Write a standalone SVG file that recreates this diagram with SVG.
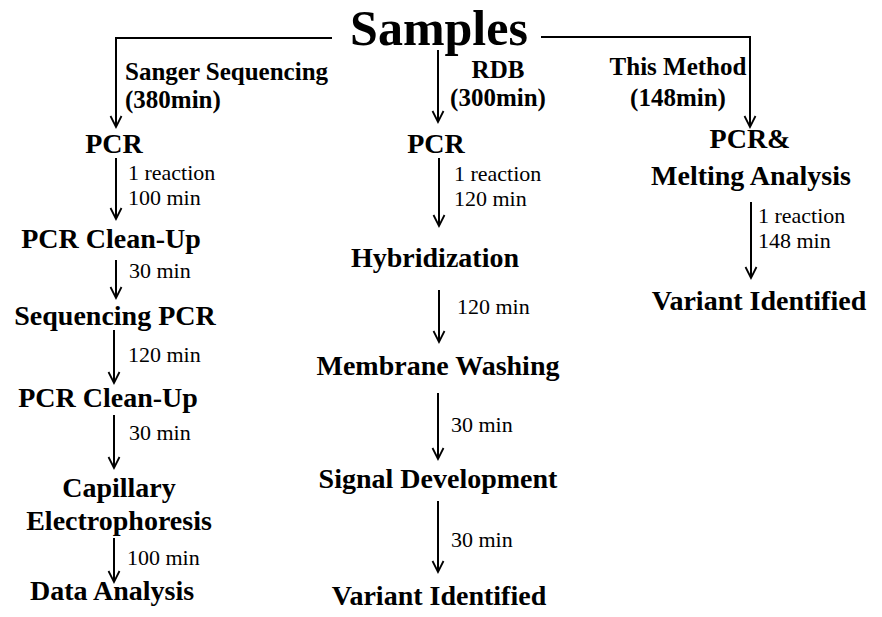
<svg xmlns="http://www.w3.org/2000/svg" width="882" height="617" viewBox="0 0 882 617">
<defs>
<marker id="ah" markerWidth="14" markerHeight="14" refX="12" refY="7" orient="auto" markerUnits="userSpaceOnUse" viewBox="0 0 14 14">
<polyline points="1,1.5 12,7 1,12.5" fill="none" stroke="#000" stroke-width="1.8"/>
</marker>
<style>
text{font-family:"Liberation Serif","Times New Roman",serif;fill:#000}
.t{font-size:50px;font-weight:bold;text-anchor:middle}
.n{font-size:28px;font-weight:bold;text-anchor:middle}
.m{font-size:25px;font-weight:bold}
.s{font-size:22px}
.c{stroke:#000;stroke-width:2;fill:none}
.a{marker-end:url(#ah)}
</style>
</defs>
<rect width="882" height="617" fill="#fff"/>
<g id="samples"><text class="t" x="439" y="45">Samples</text></g>
<g id="labels">
<text class="m" x="125" y="80">Sanger Sequencing</text>
<text class="m" x="125" y="108">(380min)</text>
<text class="m" x="498" y="78" text-anchor="middle">RDB</text>
<text class="m" x="498" y="106" text-anchor="middle">(300min)</text>
<text class="m" x="678" y="75" text-anchor="middle">This Method</text>
<text class="m" x="678" y="106" text-anchor="middle">(148min)</text>
</g>
<g id="connectors">
<polyline class="c a" points="332,38 116,38 116,127"/>
<line class="c a" x1="438" y1="50" x2="438" y2="122"/>
<polyline class="c a" points="541,37 750,37 750,127"/>
<line class="c a" x1="116" y1="158" x2="116" y2="219"/>
<line class="c a" x1="116" y1="260" x2="116" y2="298"/>
<line class="c a" x1="114" y1="330" x2="114" y2="383"/>
<line class="c a" x1="114" y1="415" x2="114" y2="468"/>
<line class="c a" x1="114" y1="538" x2="114" y2="582"/>
<line class="c a" x1="439" y1="158" x2="439" y2="226"/>
<line class="c a" x1="439" y1="290" x2="439" y2="342"/>
<line class="c a" x1="438" y1="393" x2="438" y2="459"/>
<line class="c a" x1="438" y1="501" x2="438" y2="572"/>
<line class="c a" x1="751" y1="202" x2="751" y2="278"/>
</g>
<g id="edge-labels">
<text class="s" x="128" y="180">1 reaction</text>
<text class="s" x="128" y="205">100 min</text>
<text class="s" x="129" y="278">30 min</text>
<text class="s" x="128" y="362">120 min</text>
<text class="s" x="129" y="440">30 min</text>
<text class="s" x="127" y="565">100 min</text>
<text class="s" x="454" y="181">1 reaction</text>
<text class="s" x="454" y="206">120 min</text>
<text class="s" x="457" y="314">120 min</text>
<text class="s" x="451" y="432">30 min</text>
<text class="s" x="451" y="547">30 min</text>
<text class="s" x="758" y="223">1 reaction</text>
<text class="s" x="758" y="248">148 min</text>
</g>
<g id="s-pcr"><text class="n" x="114" y="153">PCR</text></g>
<g id="s-cleanup1"><text class="n" x="111" y="248">PCR Clean-Up</text></g>
<g id="s-seqpcr"><text class="n" x="115" y="325">Sequencing PCR</text></g>
<g id="s-cleanup2"><text class="n" x="108" y="407">PCR Clean-Up</text></g>
<g id="s-ce"><text class="n" x="119" y="497">Capillary</text><text class="n" x="119" y="530">Electrophoresis</text></g>
<g id="s-data"><text class="n" x="112" y="600">Data Analysis</text></g>
<g id="r-pcr"><text class="n" x="436" y="153">PCR</text></g>
<g id="r-hyb"><text class="n" x="435" y="267">Hybridization</text></g>
<g id="r-wash"><text class="n" x="438" y="375">Membrane Washing</text></g>
<g id="r-signal"><text class="n" x="438" y="488">Signal Development</text></g>
<g id="r-variant"><text class="n" x="439" y="605">Variant Identified</text></g>
<g id="m-pcr"><text class="n" x="750" y="148">PCR&amp;</text><text class="n" x="751" y="185">Melting Analysis</text></g>
<g id="m-variant"><text class="n" x="759" y="310">Variant Identified</text></g>
</svg>
